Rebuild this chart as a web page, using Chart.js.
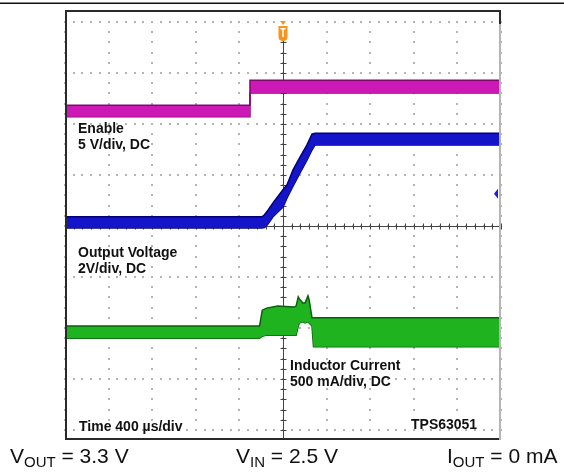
<!DOCTYPE html>
<html>
<head>
<meta charset="utf-8">
<script src="https://cdn.jsdelivr.net/npm/chart.js@4/dist/chart.umd.min.js"></script>
<style>
  html, body { margin: 0; padding: 0; background: #fff; }
  canvas { display: block; }
</style>
</head>
<body>
<canvas id="scope" width="564" height="472"></canvas>
<script>
// time axis in µs (400 µs/div, 10 div), vertical in screen divisions (8 div)
const xDivs = 10, yDivs = 8;
const timeMin = -2000, timeMax = 2000;

// Enable, 5 V/div
const enableT  = [-2000, -303, -303, 2000];
const enableHi = [2.37, 2.37, 2.86, 2.86];
const enableLo = [2.14, 2.14, 2.61, 2.61];

// Output voltage, 2 V/div
const voutT  = [-2000, -193, -170, -138, -92, 0, 37, 92, 156, 220, 266, 294, 2000];
const voutHi = [0.18, 0.18, 0.22, 0.31, 0.45, 0.71, 0.81, 1.10, 1.35, 1.59, 1.80, 1.82, 1.82];
const voutLo = [-0.04, -0.04, -0.03, 0.04, 0.18, 0.37, 0.55, 0.78, 1.04, 1.29, 1.49, 1.59, 1.59];

// Inductor current, 500 mA/div
const ilT  = [-2000, -215, -190, -150, -50, 100, 120, 140, 150, 183, 202, 229, 240, 266, 280, 2000];
const ilHi = [-1.96, -1.96, -1.65, -1.61, -1.57, -1.59, -1.57, -1.39, -1.43, -1.51, -1.51, -1.37, -1.45, -1.80, -1.80, -1.80];
const ilLo = [-2.20, -2.20, -2.16, -2.14, -2.14, -2.14, -2.14, -1.96, -1.90, -1.88, -1.90, -1.88, -1.90, -1.96, -2.37, -2.37];

const triggerLevel = 0.63;

const pts = (t, v) => t.map((x, i) => ({ x: x, y: v[i] }));

function band(t, hi, lo, fill, edge) {
    return [
        { data: pts(t, hi), borderColor: edge, backgroundColor: fill, borderWidth: 1.5, fill: '+1', pointRadius: 0, tension: 0 },
        { data: pts(t, lo), borderColor: edge, backgroundColor: fill, borderWidth: 1.5, fill: false, pointRadius: 0, tension: 0 }
    ];
}

const scopeGrid = {
    id: 'scopeGrid',
    beforeDatasetsDraw(chart) {
        const { ctx, scales: { x, y } } = chart;
        ctx.save();
        ctx.fillStyle = '#b4b4b4';
        const xStep = (timeMax - timeMin) / xDivs;
        // dotted grid
        for (let i = 0; i <= xDivs; i++) {
            const px = x.getPixelForValue(timeMin + i * xStep);
            for (let j = 0; j <= yDivs * 5; j++) {
                const py = y.getPixelForValue(-4 + j / 5);
                ctx.fillRect(Math.round(px) - 1, Math.round(py) - 1, 2, 2);
            }
        }
        for (let j = 0; j <= yDivs; j++) {
            const py = y.getPixelForValue(-4 + j);
            for (let i = 0; i <= xDivs * 5; i++) {
                const px = x.getPixelForValue(timeMin + i * xStep / 5);
                ctx.fillRect(Math.round(px) - 1, Math.round(py) - 1, 2, 2);
            }
        }
        // centre axes with minor ticks
        const cx = Math.round(x.getPixelForValue(0)) + 0.5;
        const cy = Math.round(y.getPixelForValue(0)) + 0.5;
        ctx.strokeStyle = '#444';
        ctx.lineWidth = 1;
        ctx.beginPath();
        ctx.moveTo(cx, 41); ctx.lineTo(cx, 439);
        ctx.moveTo(x.left, cy); ctx.lineTo(x.right, cy);
        for (let j = 0; j <= yDivs * 5; j++) {
            const py = Math.round(y.getPixelForValue(-4 + j / 5)) + 0.5;
            if (py < 42) continue;
            ctx.moveTo(cx - 3, py); ctx.lineTo(cx + 3, py);
        }
        for (let i = 0; i <= xDivs * 5; i++) {
            const px = Math.round(x.getPixelForValue(timeMin + i * xStep / 5)) + 0.5;
            ctx.moveTo(px, cy - 3); ctx.lineTo(px, cy + 3);
        }
        ctx.stroke();
        ctx.restore();
    },
    afterDraw(chart) {
        const { ctx, scales: { x, y } } = chart;
        ctx.save();
        // page rule and frame
        ctx.fillStyle = '#111';
        ctx.fillRect(0, 2.5, 564, 1.5);
        ctx.fillStyle = '#2a2a2a';
        ctx.fillRect(65, 10, 436, 2);
        ctx.fillRect(65, 10, 2, 430);
        ctx.fillRect(65, 438, 436, 2);
        ctx.fillStyle = '#b5b5b5';
        ctx.fillRect(499, 10, 2, 430);
        ctx.fillStyle = '#2a2a2a';
        ctx.fillRect(499, 10, 2, 14);

        // trigger marker
        const tx = x.getPixelForValue(0);
        ctx.fillStyle = '#f7941d';
        ctx.beginPath();
        ctx.moveTo(tx - 3, 21); ctx.lineTo(tx + 3, 21); ctx.lineTo(tx, 25); ctx.closePath();
        ctx.fill();
        ctx.beginPath();
        ctx.moveTo(tx - 4.5, 26); ctx.lineTo(tx + 4.5, 26); ctx.lineTo(tx + 4.5, 37);
        ctx.quadraticCurveTo(tx + 4.5, 41, tx, 41); ctx.quadraticCurveTo(tx - 4.5, 41, tx - 4.5, 37);
        ctx.closePath(); ctx.fill();
        ctx.fillStyle = '#fff';
        ctx.fillRect(tx - 2.5, 28, 5, 1.5);
        ctx.fillRect(tx - 0.75, 28, 1.5, 9);

        // trigger level marker
        const ty = y.getPixelForValue(triggerLevel);
        ctx.fillStyle = '#1a1aff';
        ctx.beginPath();
        ctx.moveTo(494, ty); ctx.lineTo(498, ty - 5); ctx.lineTo(498, ty + 5); ctx.closePath();
        ctx.fill();

        // channel labels
        ctx.fillStyle = '#111';
        ctx.font = 'bold 14px "Liberation Sans", Arial, sans-serif';
        ctx.textBaseline = 'alphabetic';
        ctx.fillText('Enable', 78, 133);
        ctx.fillText('5 V/div, DC', 78, 149);
        ctx.fillText('Output Voltage', 78, 257);
        ctx.fillText('2V/div, DC', 78, 273);
        ctx.fillText('Inductor Current', 290, 370);
        ctx.fillText('500 mA/div, DC', 290, 386);
        ctx.fillText('Time 400 µs/div', 79, 431);
        ctx.fillText('TPS63051', 411, 429);

        // conditions under the plot
        function sub(xp, main, low, rest) {
            ctx.font = '21px "Liberation Sans", Arial, sans-serif';
            ctx.fillText(main, xp, 463);
            let w = ctx.measureText(main).width;
            ctx.font = '15px "Liberation Sans", Arial, sans-serif';
            ctx.fillText(low, xp + w, 467);
            w += ctx.measureText(low).width;
            ctx.font = '21px "Liberation Sans", Arial, sans-serif';
            ctx.fillText(rest, xp + w, 463);
        }
        sub(10, 'V', 'OUT', ' = 3.3 V');
        sub(236, 'V', 'IN', ' = 2.5 V');
        sub(447, 'I', 'OUT', ' = 0 mA');
        ctx.restore();
    }
};

new Chart(document.getElementById('scope'), {
    type: 'line',
    data: {
        datasets: [
            ...band(enableT, enableHi, enableLo, '#cc18b4', '#7d0a6c'),
            ...band(voutT, voutHi, voutLo, '#1414c8', '#00007a'),
            ...band(ilT, ilHi, ilLo, '#1fb41f', '#0b5e0b')
        ]
    },
    options: {
        responsive: false,
        animation: false,
        layout: { padding: { left: 65, right: 63, top: 22, bottom: 42 } },
        plugins: { legend: { display: false }, tooltip: { enabled: false } },
        scales: {
            x: { type: 'linear', min: timeMin, max: timeMax, display: false },
            y: { type: 'linear', min: -4, max: 4, display: false }
        }
    },
    plugins: [scopeGrid]
});
</script>
</body>
</html>
